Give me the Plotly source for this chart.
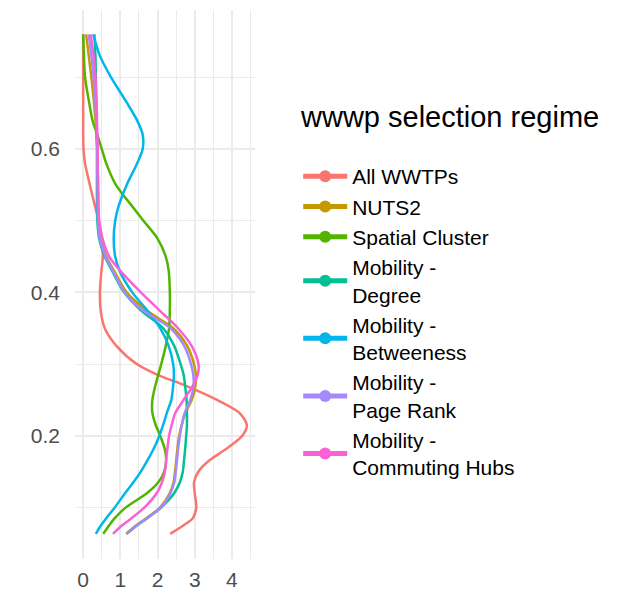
import plotly.graph_objects as go

# Value levels (vertical axis) at which each density curve is sampled
value_levels = [0.76, 0.73, 0.70, 0.665, 0.64, 0.62, 0.60, 0.58, 0.55, 0.52,
                0.50, 0.475, 0.45, 0.43, 0.40, 0.375, 0.35, 0.325, 0.30, 0.285,
                0.27, 0.25, 0.232, 0.215, 0.20, 0.18, 0.165, 0.15, 0.135, 0.12,
                0.10, 0.085, 0.075, 0.063]

regimes = ["All WWTPs", "NUTS2", "Spatial Cluster", "Mobility -<br>Degree",
           "Mobility -<br>Betweeness", "Mobility -<br>Page Rank",
           "Mobility -<br>Commuting Hubs"]
legend_title = "wwwp selection regime"

density_all_wwtps = [0.0, 0.0, 0.0, 0.0, 0.0, 0.0, 0.01, 0.05, 0.18, 0.32,
                     0.42, 0.50, 0.53, 0.49, 0.45, 0.47, 0.58, 0.90, 1.44, 2.00,
                     2.75, 3.60, 4.20, 4.40, 4.28, 3.80, 3.38, 3.10, 2.98, 3.00,
                     3.04, 2.95, 2.70, 2.34]
density_nuts2 = [0.08, 0.15, 0.22, 0.29, 0.33, 0.36, 0.38, 0.39, 0.40, 0.41,
                 0.42, 0.47, 0.62, 0.83, 1.17, 1.70, 2.42, 2.80, 2.98, 3.03,
                 3.02, 2.92, 2.75, 2.65, 2.58, 2.53, 2.50, 2.47, 2.43, 2.33,
                 2.07, 1.70, 1.43, 1.15]
density_spatial = [0.0, 0.02, 0.05, 0.16, 0.25, 0.38, 0.50, 0.62, 0.88, 1.32,
                   1.62, 2.00, 2.22, 2.30, 2.33, 2.33, 2.31, 2.22, 2.10, 2.02,
                   1.94, 1.86, 1.86, 1.95, 2.07, 2.20, 2.23, 2.18, 2.02, 1.72,
                   1.15, 0.85, 0.70, 0.54]
density_degree = [0.30, 0.33, 0.34, 0.35, 0.36, 0.36, 0.37, 0.37, 0.37, 0.37,
                  0.38, 0.43, 0.58, 0.78, 1.10, 1.55, 2.15, 2.45, 2.62, 2.70,
                  2.74, 2.78, 2.79, 2.79, 2.77, 2.74, 2.71, 2.68, 2.60, 2.45,
                  2.10, 1.72, 1.45, 1.17]
density_betweeness = [0.27, 0.45, 0.75, 1.17, 1.45, 1.60, 1.60, 1.45, 1.17, 0.95,
                      0.86, 0.82, 0.86, 0.98, 1.32, 1.72, 2.07, 2.30, 2.42, 2.44,
                      2.42, 2.37, 2.25, 2.15, 2.05, 1.88, 1.72, 1.55, 1.35, 1.13,
                      0.85, 0.62, 0.48, 0.34]
density_page_rank = [0.15, 0.22, 0.28, 0.33, 0.35, 0.37, 0.38, 0.38, 0.39, 0.39,
                     0.40, 0.45, 0.60, 0.80, 1.12, 1.60, 2.35, 2.72, 2.90, 2.96,
                     2.97, 2.88, 2.73, 2.65, 2.60, 2.55, 2.52, 2.49, 2.45, 2.35,
                     2.10, 1.72, 1.45, 1.17]
density_commuting = [0.20, 0.28, 0.33, 0.36, 0.37, 0.38, 0.39, 0.39, 0.40, 0.41,
                     0.43, 0.52, 0.70, 1.00, 1.55, 2.05, 2.55, 2.92, 3.10, 3.08,
                     2.95, 2.70, 2.48, 2.38, 2.31, 2.26, 2.23, 2.20, 2.12, 1.98,
                     1.65, 1.30, 1.05, 0.80]

series = [density_all_wwtps, density_nuts2, density_spatial, density_degree,
          density_betweeness, density_page_rank, density_commuting]
colors = ["#F8766D", "#C49A00", "#53B400", "#00C094", "#00B6EB", "#A58AFF", "#FB61D7"]

x_ticks = [0, 1, 2, 3, 4]
y_ticks = [0.2, 0.4, 0.6]

fig = go.Figure()
for name, dens, col in zip(regimes, series, colors):
    fig.add_trace(go.Scatter(
        x=dens, y=value_levels, name=name,
        mode="lines+markers", line=dict(color=col, width=2.5, shape="spline", smoothing=0.8),
        marker=dict(size=0.001, color=col),
        hoverinfo="x+y+name",
    ))

grid = "#EBEBEB"
fig.update_layout(
    width=628, height=593,
    margin=dict(l=75, r=373, t=10, b=34),
    paper_bgcolor="white", plot_bgcolor="white",
    font=dict(family="Liberation Sans, Arial, sans-serif", color="#4D4D4D"),
    xaxis=dict(range=[-0.22, 4.62], tickvals=x_ticks, showline=False, zeroline=False,
               automargin=False,
               gridcolor=grid, gridwidth=1.6, tickfont=dict(size=21, color="#4D4D4D"),
               ticks="", ticklabelstandoff=6,
               minor=dict(dtick=0.5, showgrid=True, gridcolor=grid, gridwidth=1.0)),
    yaxis=dict(range=[0.028, 0.794], tickvals=y_ticks, showline=False, zeroline=False,
               automargin=False,
               gridcolor=grid, gridwidth=1.6, tickfont=dict(size=21, color="#4D4D4D"),
               ticks="", ticklabelstandoff=14,
               minor=dict(dtick=0.1, showgrid=True, gridcolor=grid, gridwidth=1.0)),
    legend=dict(
        font=dict(size=21, color="black"),
        x=1.24, xanchor="left", y=(559 - 156) / 549, yanchor="top",
        itemsizing="constant", itemwidth=44,
        bgcolor="rgba(0,0,0,0)",
    ),
    showlegend=True,
    annotations=[dict(
        text=legend_title, xref="paper", yref="paper",
        x=(298 - 75) / 180, y=(559 - 117) / 549, xanchor="left", yanchor="middle",
        showarrow=False, font=dict(size=29, color="black"),
    )],
)

fig.write_html("out.html")
